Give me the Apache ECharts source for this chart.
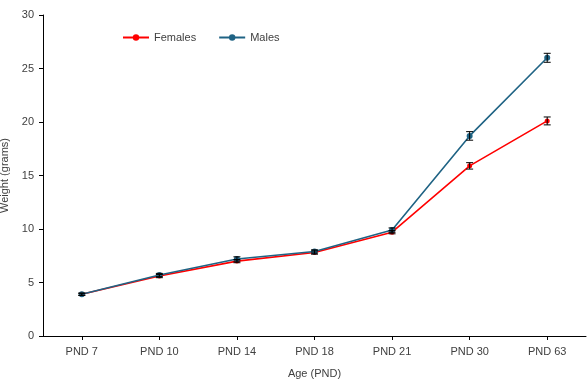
<!DOCTYPE html>
<html>
<head>
<meta charset="utf-8">
<script src="https://cdn.jsdelivr.net/npm/echarts@6/dist/echarts.min.js"></script>
<style>
  html, body { margin: 0; padding: 0; background: #fff; }
  #chart { width: 587px; height: 390px; }
</style>
</head>
<body>
<div id="chart"></div>
<script>
// values
const ages = ['PND 7', 'PND 10', 'PND 14', 'PND 18', 'PND 21', 'PND 30', 'PND 63']
const females = [3.9, 5.6, 7.0, 7.8, 9.7, 15.9, 20.1]
const femalesErr = [0.1, 0.15, 0.15, 0.15, 0.15, 0.3, 0.37]
const males = [3.9, 5.7, 7.2, 7.9, 9.9, 18.7, 26.0]
const malesErr = [0.1, 0.15, 0.2, 0.15, 0.2, 0.4, 0.42]
const yTicks = [0, 5, 10, 15, 20, 25, 30]

const font = 'Liberation Sans, Arial, sans-serif'

function errorSeries (name, values, errs) {
  return {
    name: name,
    type: 'custom',
    z: 5,
    silent: true,
    data: values.map((v, i) => [i, v - errs[i], v + errs[i]]),
    renderItem (params, api) {
      const lo = api.coord([api.value(0), api.value(1)])
      const hi = api.coord([api.value(0), api.value(2)])
      const w = 3.5
      const style = { stroke: '#000', lineWidth: 1 }
      return {
        type: 'group',
        children: [
          { type: 'line', shape: { x1: lo[0], y1: lo[1], x2: hi[0], y2: hi[1] }, style },
          { type: 'line', shape: { x1: lo[0] - w, y1: lo[1], x2: lo[0] + w, y2: lo[1] }, style },
          { type: 'line', shape: { x1: hi[0] - w, y1: hi[1], x2: hi[0] + w, y2: hi[1] }, style }
        ]
      }
    }
  }
}

const chart = echarts.init(document.getElementById('chart'))
chart.setOption({
  animation: false,
  textStyle: { fontFamily: font },
  grid: { left: 43, right: 1, top: 15, bottom: 54, containLabel: false, outerBoundsMode: 'none' },
  legend: {
    left: 122,
    top: 32,
    padding: 0,
    itemWidth: 26,
    itemHeight: 8,
    itemGap: 22,
    textStyle: { color: '#404040', fontSize: 11, fontFamily: font },
    data: ['Females', 'Males']
  },
  xAxis: {
    type: 'category',
    data: ages,
    boundaryGap: true,
    name: 'Age (PND)',
    nameLocation: 'middle',
    nameGap: 32,
    nameTextStyle: { color: '#404040', fontSize: 11 },
    axisLine: { lineStyle: { color: '#000', width: 1 } },
    axisTick: { show: true, alignWithLabel: true, length: 4, lineStyle: { color: '#000' } },
    axisLabel: { color: '#404040', fontSize: 11, margin: 10 },
    splitLine: { show: false }
  },
  yAxis: {
    type: 'value',
    min: yTicks[0],
    max: yTicks[yTicks.length - 1],
    interval: 5,
    name: 'Weight (grams)',
    nameLocation: 'middle',
    nameGap: 31,
    nameTextStyle: { color: '#404040', fontSize: 11 },
    axisLine: { show: true, lineStyle: { color: '#000', width: 1 } },
    axisTick: { show: true, length: 4, lineStyle: { color: '#000' } },
    axisLabel: { color: '#404040', fontSize: 11, margin: 9 },
    splitLine: { show: false }
  },
  series: [
    {
      name: 'Females',
      type: 'line',
      data: females,
      color: '#ff0000',
      symbol: 'circle',
      symbolSize: 5,
      lineStyle: { width: 1.6, color: '#ff0000' },
      itemStyle: { color: '#ff0000' },
      z: 2
    },
    {
      name: 'Males',
      type: 'line',
      data: males,
      color: '#1f6384',
      symbol: 'circle',
      symbolSize: 6,
      lineStyle: { width: 1.6, color: '#1f6384' },
      itemStyle: { color: '#1f6384' },
      z: 3
    },
    errorSeries('femalesErr', females, femalesErr),
    errorSeries('malesErr', males, malesErr)
  ]
})
</script>
</body>
</html>
